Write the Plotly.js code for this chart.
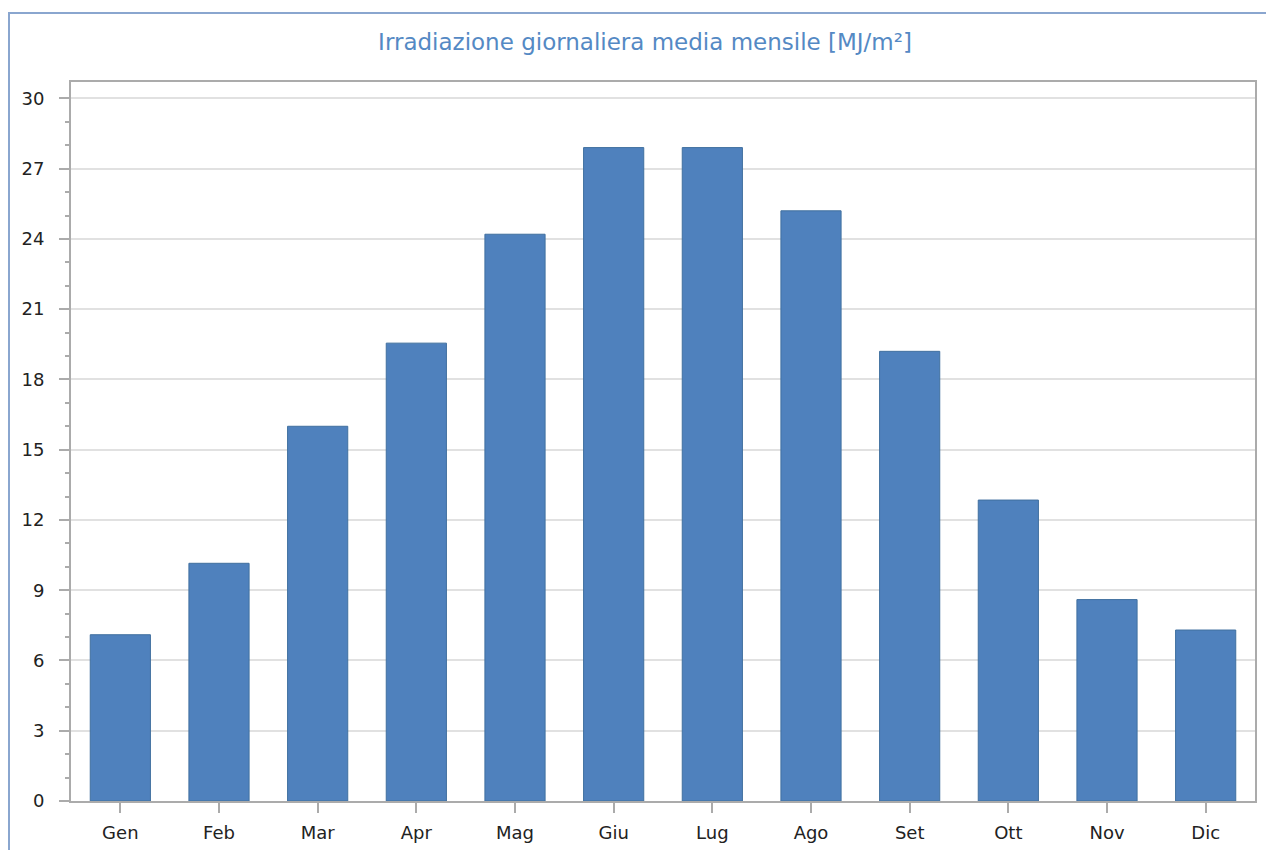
<!DOCTYPE html>
<html>
<head>
<meta charset="utf-8">
<script src="https://cdn.plot.ly/plotly-3.0.1.min.js"></script>
<style>
  body { margin: 0; background: #fff; }
  #frame { position: absolute; left: 8px; top: 12px; width: 1258px; height: 838px;
           border-left: 2px solid #8AA6CF; border-top: 2px solid #8AA6CF; }
  #chart { width: 1256px; height: 836px; }
</style>
</head>
<body>
<div id="frame"><div id="chart"></div></div>
<script>
const months = ['Gen', 'Feb', 'Mar', 'Apr', 'Mag', 'Giu', 'Lug', 'Ago', 'Set', 'Ott', 'Nov', 'Dic'];
const irradiation = [7.1, 10.15, 16.0, 19.55, 24.2, 27.9, 27.9, 25.2, 19.2, 12.85, 8.6, 7.3];
const yTicks = [0, 3, 6, 9, 12, 15, 18, 21, 24, 27, 30];

const trace = {
    x: months,
    y: irradiation,
    type: 'bar',
    marker: {color: '#4F81BD', line: {color: '#41709F', width: 1}},
    hoverinfo: 'x+y'
};

const layout = {
    width: 1256,
    height: 836,
    margin: {l: 61, r: 11, t: 68, b: 49},
    paper_bgcolor: '#ffffff',
    plot_bgcolor: '#ffffff',
    font: {family: 'DejaVu Sans, Verdana, sans-serif', size: 18, color: '#222'},
    title: {
        text: 'Irradiazione giornaliera media mensile [MJ/m²]',
        font: {size: 23, color: '#5489C4'},
        xref: 'container', x: 0.5056,
        yref: 'container', y: 0.9665, yanchor: 'middle'
    },
    bargap: 0.39,
    showlegend: false,
    xaxis: {
        showline: true, mirror: true, linecolor: '#ABABAB', linewidth: 2,
        ticks: 'outside', ticklen: 10, tickcolor: '#ABABAB', tickwidth: 2,
        ticklabelstandoff: 4,
        showgrid: false, tickfont: {size: 18, color: '#222'}
    },
    yaxis: {
        range: [0, 30.7],
        tickvals: yTicks,
        showline: true, mirror: true, linecolor: '#ABABAB', linewidth: 2,
        ticks: 'outside', ticklen: 10, tickcolor: '#ABABAB', tickwidth: 2,
        ticklabelstandoff: 11,
        gridcolor: '#E1E1E1', gridwidth: 1.5, zeroline: false,
        tickfont: {size: 18, color: '#222'},
        minor: {dtick: 1, ticks: 'outside', ticklen: 4, tickcolor: '#ABABAB', showgrid: false}
    }
};

Plotly.newPlot('chart', [trace], layout, {displayModeBar: false});
</script>
</body>
</html>
